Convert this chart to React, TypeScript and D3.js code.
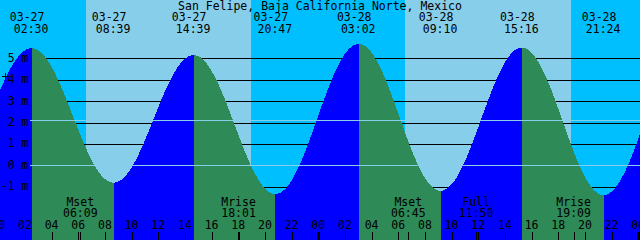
import React from 'react';
import * as d3 from 'd3';

const W = 640;
const H = 240;
const YEAR = 2021;
const TITLE = 'San Felipe, Baja California Norte, Mexico';

// tide extremes (first and last lie outside the visible window)
const tideTimes = ['03-26 20:15', '03-27 02:30', '03-27 08:39', '03-27 14:39', '03-27 20:47', '03-28 03:02', '03-28 09:10', '03-28 15:16', '03-28 21:24', '03-29 03:35'];
const tideLevels = [-0.8, 5.47, -0.81, 5.15, -1.34, 5.67, -1.19, 5.5, -1.39, 5.6];
const tideShown = [false, true, true, true, true, true, true, true, true, false];

// daylight intervals
const sunrises = ['03-27 06:35', '03-28 06:31'];
const sunsets = ['03-27 18:57', '03-28 18:57'];

// moon events
const moonNames = ['Mset', 'Mrise', 'Mset', 'Full', 'Mrise'];
const moonTimes = ['03-27 06:09', '03-27 18:01', '03-28 06:45', '03-28 11:50', '03-28 19:09'];

const levelTicks = [-1, 0, 1, 2, 3, 4, 5];
const MEAN_LEVEL = 2.1;
const DATUM_LEVEL = 0;
const MARK_LEVEL = 4.15;

const NIGHT = '#00BFFF';
const DAY = '#87CEEB';
const RISE = '#0000FF';
const FALL = '#2E8B57';
const LIGHT_LINE = '#87CEEB';
const FONT = '"DejaVu Sans Mono", monospace';
const FS = 11.5;

const parse = (s: string) =>
  new Date(Date.UTC(YEAR, +s.slice(0, 2) - 1, +s.slice(3, 5), +s.slice(6, 8), +s.slice(9, 11)));

const start = new Date(parse('03-27 00:00').getTime() + (7 * 60 + 40) * 1000);
const end = new Date(start.getTime() + 48 * 3600 * 1000);

export default function App() {
  const x = d3.scaleUtc().domain([start, end]).range([0, W]);
  const y = d3.scaleLinear().domain([-1, 5]).range([186.7, 58.3]);

  const segments = d3.range(tideTimes.length - 1).map((i) => {
    const t0 = parse(tideTimes[i]).getTime();
    const t1 = parse(tideTimes[i + 1]).getTime();
    const h0 = tideLevels[i];
    const h1 = tideLevels[i + 1];
    const pts = d3.range(0, 201).map((k) => {
      const u = k / 200;
      return { t: new Date(t0 + u * (t1 - t0)), h: h0 + ((h1 - h0) * (1 - Math.cos(Math.PI * u))) / 2 };
    });
    const area = d3
      .area<{ t: Date; h: number }>()
      .x((d) => x(d.t))
      .y0(H)
      .y1((d) => y(d.h));
    return { d: area(pts) || '', color: h1 > h0 ? RISE : FALL };
  });

  const hourTicks = d3.utcHour
    .every(2)!
    .range(new Date(start.getTime() - 2 * 3600 * 1000), new Date(end.getTime() + 1));
  const fmtH = d3.utcFormat('%H');
  const lineX0 = 30;

  return (
    <svg
      width={W}
      height={H}
      style={{ position: 'fixed', left: 0, top: 0, display: 'block' }}
      fontFamily={FONT}
      fontSize={FS}
    >
      <rect x={0} y={0} width={W} height={H} fill={NIGHT} />
      {sunrises.map((s, i) => (
        <rect
          key={'day' + i}
          x={x(parse(s))}
          y={0}
          width={x(parse(sunsets[i])) - x(parse(s))}
          height={H}
          fill={DAY}
          shapeRendering="crispEdges"
        />
      ))}
      {levelTicks.map((v) => (
        <line key={'gl' + v} x1={lineX0} x2={W} y1={Math.round(y(v)) + 0.5} y2={Math.round(y(v)) + 0.5} stroke="#000" strokeWidth={1} shapeRendering="crispEdges" />
      ))}
      {segments.map((s, i) => (
        <path key={'seg' + i} d={s.d} fill={s.color} shapeRendering="crispEdges" />
      ))}
      {[DATUM_LEVEL, MEAN_LEVEL].map((v) => (
        <line key={'ll' + v} x1={lineX0} x2={W} y1={Math.round(y(v)) + 0.5} y2={Math.round(y(v)) + 0.5} stroke={LIGHT_LINE} strokeWidth={1} shapeRendering="crispEdges" />
      ))}
      {levelTicks.map((v) => (
        <text key={'yl' + v} x={28.5} y={y(v) + 3.5} textAnchor="end" fill="#000">
          {`${v} m`}
        </text>
      ))}
      <g stroke="#000" strokeWidth={1} shapeRendering="crispEdges">
        <line x1={1.5} x2={9} y1={Math.round(y(MARK_LEVEL)) + 0.5} y2={Math.round(y(MARK_LEVEL)) + 0.5} />
        <line x1={5.5} x2={5.5} y1={y(MARK_LEVEL) - 3.5} y2={y(MARK_LEVEL) + 4} />
      </g>
      <text x={W / 2} y={10} textAnchor="middle" fill="#000">
        {TITLE}
      </text>
      {tideTimes.map((s, i) =>
        tideShown[i] ? (
          <g key={'ev' + i}>
            <text x={x(parse(s)) - 4.5} y={21} textAnchor="middle" fill="#000">
              {s.slice(0, 5)}
            </text>
            <text x={x(parse(s)) - 0.5} y={33} textAnchor="middle" fill="#000">
              {s.slice(6)}
            </text>
          </g>
        ) : null
      )}
      {moonTimes.map((s, i) => (
        <g key={'mn' + i}>
          <text x={x(parse(s))} y={206} textAnchor="middle" fill="#000">
            {moonNames[i]}
          </text>
          <text x={x(parse(s))} y={216.5} textAnchor="middle" fill="#000">
            {s.slice(6)}
          </text>
          <line x1={Math.round(x(parse(s))) + 0.5} x2={Math.round(x(parse(s))) + 0.5} y1={232} y2={H} stroke="#000" shapeRendering="crispEdges" />
        </g>
      ))}
      {hourTicks.map((t, i) => {
        const xx = x(t);
        const midnight = t.getUTCHours() === 0;
        return (
          <g key={'ht' + i}>
            <text x={xx} y={229.3} textAnchor="middle" fill="#000">
              {fmtH(t)}
            </text>
            {midnight ? (
              <rect x={Math.round(xx) - 1.5} y={232} width={3} height={H - 232} fill="#000" shapeRendering="crispEdges" />
            ) : (
              <line x1={Math.round(xx) + 0.5} x2={Math.round(xx) + 0.5} y1={232} y2={H} stroke="#000" shapeRendering="crispEdges" />
            )}
          </g>
        );
      })}
    </svg>
  );
}
